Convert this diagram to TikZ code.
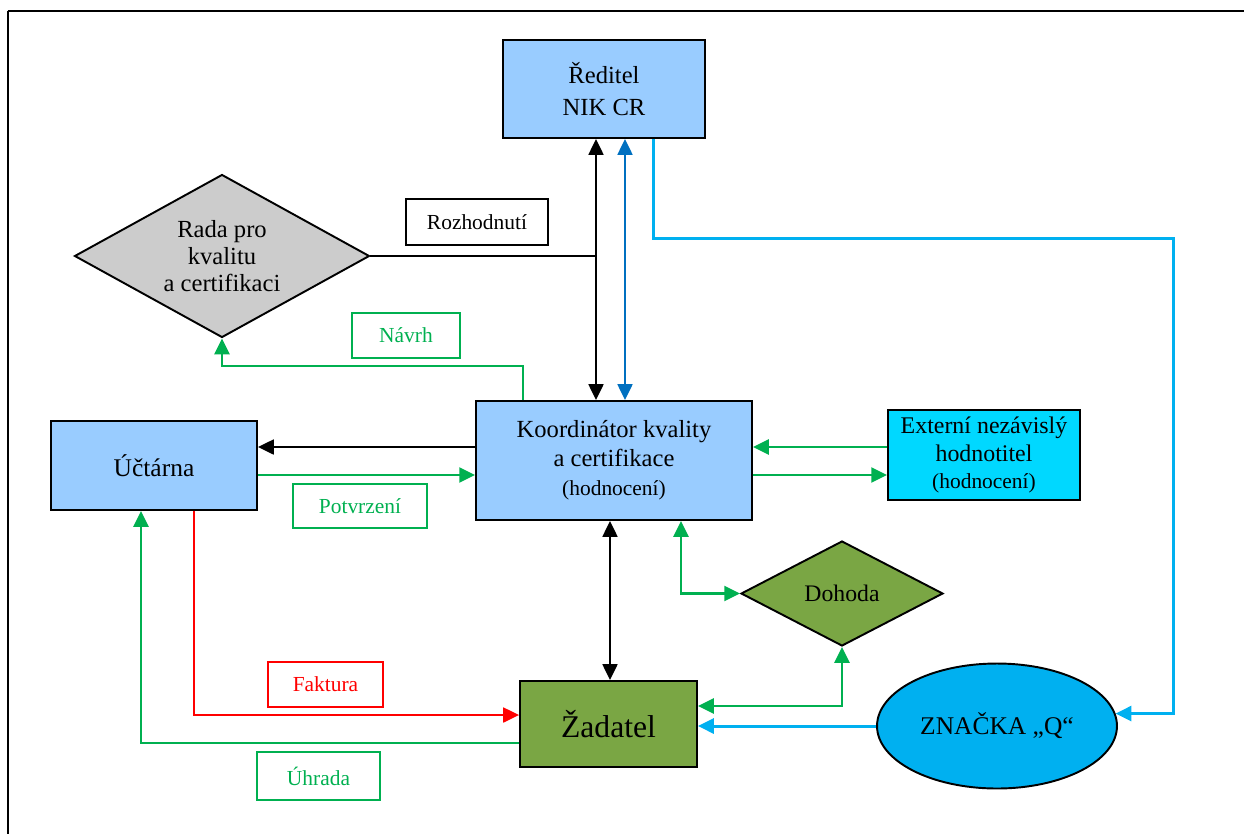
\documentclass[tikz,border=0pt]{standalone}
\usepackage{fontspec}
\setmainfont{Liberation Serif}
\usetikzlibrary{arrows.meta, shapes.geometric, positioning}

\definecolor{unitblue}{RGB}{153,204,255}
\definecolor{extcyan}{RGB}{0,216,255}
\definecolor{markblue}{RGB}{0,176,240}
\definecolor{flowgreen}{RGB}{0,176,80}
\definecolor{applgreen}{RGB}{122,166,68}
\definecolor{chiefblue}{RGB}{0,112,192}
\definecolor{boardgray}{RGB}{204,204,204}

\begin{document}
\begin{tikzpicture}[->, > = {Triangle[length=9pt, width=8.5pt]}, x = 0.02cm, y = -0.02cm, line width = 1.1pt,
	unit/.style = {draw, line width=1.1pt, fill=unitblue, align=center, inner sep=0pt, font=\fontsize{14}{16.5}\selectfont},
	tag/.style = {draw, line width=0.9pt, inner sep=0pt, font=\fontsize{12.2}{14}\selectfont},
	grn/.style = {draw=flowgreen, line width=1.4pt},
	cyanln/.style = {draw=markblue, line width=1.7pt}]

\useasboundingbox (0,0) rectangle (1244,833);
\draw[-, line width=0.9pt]	(8,845) -- (8,11);
\draw[-, line width=1.4pt]	(7.6,11) -- (1260,11);

\node[unit, minimum width=4.04cm, minimum height=1.96cm]									(reditel)	at (604,89)		{Ředitel\\[2pt]NIK CR};
\node[unit, minimum width=5.52cm, minimum height=2.38cm]									(koord)		at (614,460.5)	{Koordinátor kvality\\a certifikace\\{\fontsize{12.2}{14}\selectfont(hodnocení)}};
\node[unit, minimum width=4.12cm, minimum height=1.78cm, font=\fontsize{14.5}{17}\selectfont]	(uctarna)	at (154,465.5)	{Účtárna};
\node[unit, fill=extcyan, minimum width=3.84cm, minimum height=1.8cm, font=\fontsize{13.6}{15.5}\selectfont]	(externi)	at (984,455)	{Externí nezávislý\\hodnotitel\\{\fontsize{12.2}{14}\selectfont(hodnocení)}};
\node[unit, fill=applgreen, minimum width=3.54cm, minimum height=1.72cm, font=\fontsize{18}{20}\selectfont]	(zadatel)	at (608.5,724)	{Žadatel};
\node[unit, ellipse, fill=markblue, minimum width=4.8cm, minimum height=2.5cm, font=\fontsize{14.5}{17}\selectfont]	(znacka)	at (997,726)	{ZNAČKA „Q“};
\node[unit, diamond, shape aspect=1.8, fill=boardgray, minimum width=5.9cm, minimum height=3.26cm, font=\fontsize{14}{15.5}\selectfont]	(rada)	at (222,256)	{Rada pro\\kvalitu\\a certifikaci};
\node[unit, diamond, shape aspect=1.9, fill=applgreen, minimum width=4.04cm, minimum height=2.1cm, font=\fontsize{13.5}{15}\selectfont]	(dohoda)	at (842,593.5)	{Dohoda};

\node[tag, minimum width=2.84cm, minimum height=0.92cm]									(rozh)		at (477,222)	{Rozhodnutí};
\node[tag, draw=flowgreen, text=flowgreen, minimum width=2.16cm, minimum height=0.9cm]		(navrh)		at (406,335.5)	{Návrh};
\node[tag, draw=flowgreen, text=flowgreen, minimum width=2.68cm, minimum height=0.88cm]		(potvrzeni)	at (360,506)	{Potvrzení};
\node[tag, draw=red, text=red, minimum width=2.3cm, minimum height=0.9cm]					(faktura)	at (325.5,684.5)	{Faktura};
\node[tag, draw=flowgreen, text=flowgreen, minimum width=2.46cm, minimum height=0.96cm]		(uhrada)	at (318.5,776)	{Úhrada};

% vedeni a rada
\path	(reditel.south -| 596,0)	edge[<->]				(koord.north -| 596,0);
\path	(reditel.south -| 625,0)	edge[<->, chiefblue]	(koord.north -| 625,0);
\draw[-]	(rada.east) -- (rada.east -| 596,0);
\draw[grn]	(koord.north -| 523,0) -- (523,366) -| (rada.south);
\draw[cyanln]	(reditel.south -| 653,0) |- (1173,238) |- (znacka.6);

% uctarna a hodnotitel
\path	(koord.west |- 0,447)		edge					(uctarna.east |- 0,447);
\path	(uctarna.east |- 0,475)	edge[grn]				(koord.west |- 0,475);
\path	(externi.west |- 0,447)	edge[grn]				(koord.east |- 0,447);
\path	(koord.east |- 0,475)		edge[grn]				(externi.west |- 0,475);

% zadatel
\path	(koord.south -| 610,0)		edge[<->]				(zadatel.north -| 610,0);
\draw[grn, <->]	(koord.south -| 681,0) |- (dohoda.west);
\draw[grn, <->]	(dohoda.south) |- (zadatel.east |- 0,706);
\draw[cyanln]	(znacka.west) -- (zadatel.east |- znacka.west);
\draw[red]	(uctarna.south -| 194,0) |- (zadatel.west |- 0,715);
\draw[grn]	(zadatel.west |- 0,743) -| (uctarna.south -| 141,0);
\end{tikzpicture}
\end{document}
